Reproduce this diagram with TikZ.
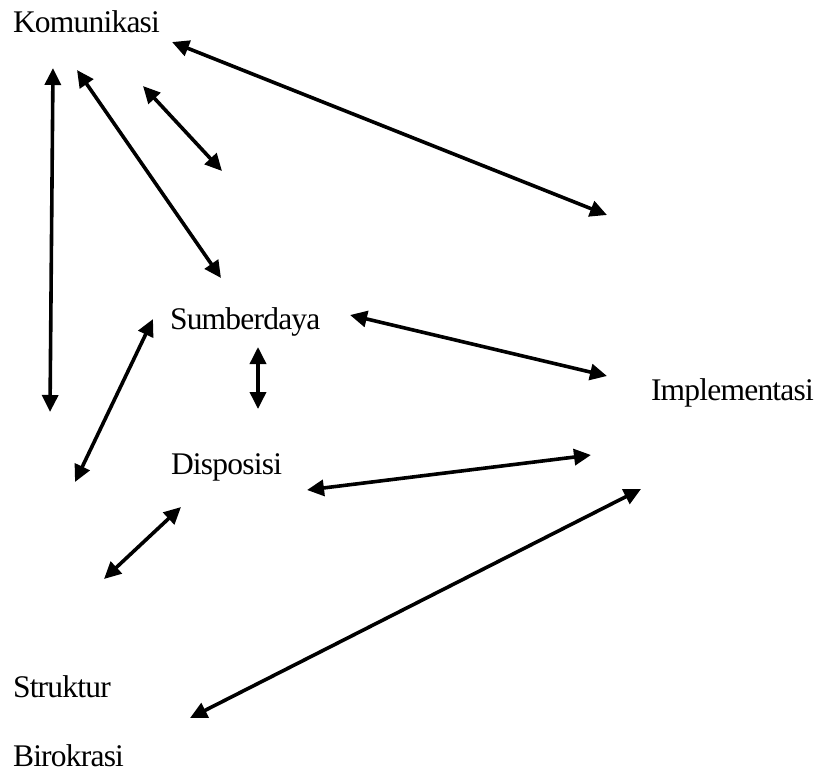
\documentclass[tikz,border=0pt]{standalone}
\usepackage{fontspec}
\setmainfont{Liberation Serif}
\usetikzlibrary{arrows.meta}
\tikzset{
  lbl/.style={anchor=base west, inner sep=0pt, outer sep=0pt, font=\fontsize{31.5}{38}\selectfont\addfontfeature{LetterSpace=-2.5}},
  tip/.style={Triangle[length=17pt,width=16pt]},
  conn/.style={line width=3.6pt, {Triangle[length=17pt,width=16pt]}-{Triangle[length=17pt,width=16pt]}}
}
\begin{document}
\begin{tikzpicture}[x=1pt,y=-1pt]
\useasboundingbox (0,0) rectangle (821,772);
% labels
\node[lbl] (kom) at (13,32) {Komunikasi};
\node[lbl] (sum) at (170,329) {Sumberdaya};
\node[lbl] (imp) at (651,400) {Implementasi};
\node[lbl] (dis) at (171,474) {Disposisi};
\node[lbl] (str) at (13,697) {Struktur};
\node[lbl] (bir) at (13,766) {Birokrasi};
% connector end points
\coordinate (a1) at (172,42);  \coordinate (b1) at (607,215);
\coordinate (a2) at (143,86);  \coordinate (b2) at (222,171);
\coordinate (a3) at (77,70);   \coordinate (b3) at (221,278);
\coordinate (a4) at (53,68);   \coordinate (b4) at (50,412);
\coordinate (a5) at (350,315); \coordinate (b5) at (607,376);
\coordinate (a6) at (258,347); \coordinate (b6) at (258,409);
\coordinate (a7) at (153,319); \coordinate (b7) at (75,482);
\coordinate (a8) at (307,490); \coordinate (b8) at (591,455);
\coordinate (a9) at (181,507); \coordinate (b9) at (104,579);
\coordinate (a10) at (190,718); \coordinate (b10) at (641,489);
\foreach \i in {1,...,10} {\draw[conn] (a\i) -- (b\i);}
\end{tikzpicture}
\end{document}
